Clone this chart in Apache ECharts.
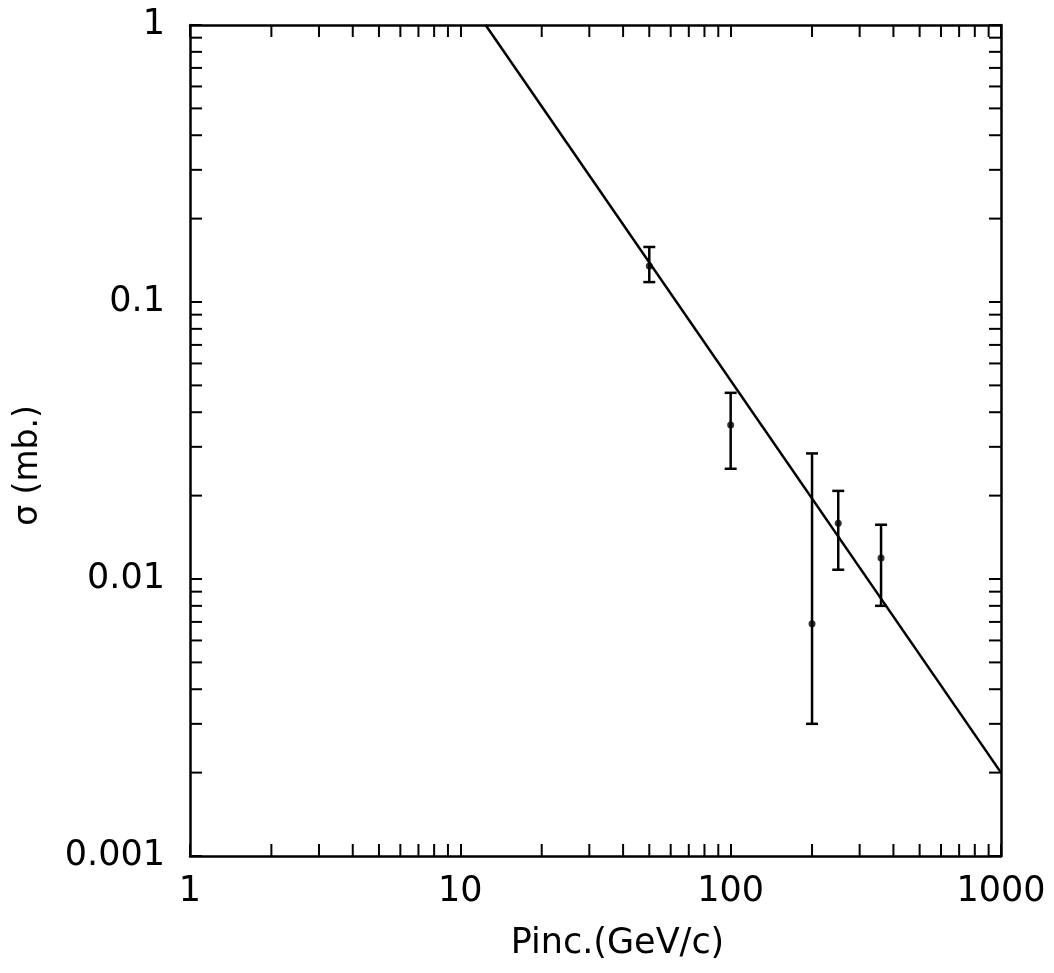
<!DOCTYPE html>
<html>
<head>
<meta charset="utf-8">
<script src="https://cdn.jsdelivr.net/npm/echarts@6/dist/echarts.min.js"></script>
<style>
html, body { margin: 0; background: #fff; }
#chart { width: 1054px; height: 973px; }
</style>
</head>
<body>
<div id="chart"></div>
<script>
// fitted power law, drawn as a straight line on log-log axes
var fitX = [12.4, 1000];
var fitY = [1, 0.002];

// measured cross sections with error bars
var momentum = [50, 100, 200, 250, 360];
var sigma = [0.135, 0.036, 0.0069, 0.0159, 0.0119];
var sigmaLow = [0.118, 0.025, 0.0030, 0.0108, 0.0080];
var sigmaHigh = [0.158, 0.047, 0.0284, 0.0208, 0.0157];

// minor tick positions (2..9 in each decade)
var minorX = [2, 3, 4, 5, 6, 7, 8, 9, 20, 30, 40, 50, 60, 70, 80, 90, 200, 300, 400, 500, 600, 700, 800, 900];
var minorY = [0.002, 0.003, 0.004, 0.005, 0.006, 0.007, 0.008, 0.009,
              0.02, 0.03, 0.04, 0.05, 0.06, 0.07, 0.08, 0.09,
              0.2, 0.3, 0.4, 0.5, 0.6, 0.7, 0.8, 0.9];

var chart = echarts.init(document.getElementById('chart'));

var FONT = 'DejaVu Sans';
var black = '#000';
var tickLen = 12;

function tickLine(x1, y1, x2, y2) {
    return { type: 'line', shape: { x1: x1, y1: y1, x2: x2, y2: y2 }, style: { stroke: black, lineWidth: 2 } };
}

var axisLineStyle = { show: true, lineStyle: { color: black, width: 2.5 } };
var majorTick = { show: true, inside: true, length: tickLen, lineStyle: { color: black, width: 2 } };

var option = {
    animation: false,
    backgroundColor: '#fff',
    grid: { left: 190, right: 53, top: 25, bottom: 117 },
    xAxis: [{
        type: 'log', logBase: 10, min: 1, max: 1000,
        name: 'Pinc.(GeV/c)', nameLocation: 'middle', nameGap: 70,
        nameTextStyle: { fontFamily: FONT, fontSize: 35, color: black, padding: [0, 0, 0, 44] },
        axisLine: axisLineStyle,
        axisTick: majorTick,
        axisLabel: { fontFamily: FONT, fontSize: 35, color: black, margin: 18,
            formatter: function (v) { return String(v); } },
        splitLine: { show: false }
    }, {
        type: 'log', logBase: 10, min: 1, max: 1000, position: 'top',
        axisLine: axisLineStyle,
        axisTick: majorTick,
        axisLabel: { show: false },
        splitLine: { show: false }
    }],
    yAxis: [{
        type: 'log', logBase: 10, min: 0.001, max: 1,
        name: 'σ (mb.)', nameLocation: 'middle', nameGap: 145, nameRotate: 90,
        nameTextStyle: { fontFamily: FONT, fontSize: 33, color: black, padding: [0, 50, 0, 0] },
        axisLine: axisLineStyle,
        axisTick: majorTick,
        axisLabel: { fontFamily: FONT, fontSize: 35, color: black, margin: 25,
            formatter: function (v) { return String(v); } },
        splitLine: { show: false }
    }, {
        type: 'log', logBase: 10, min: 0.001, max: 1, position: 'right',
        axisLine: axisLineStyle,
        axisTick: majorTick,
        axisLabel: { show: false },
        splitLine: { show: false }
    }],
    series: [
        {
            // minor ticks on bottom and top
            type: 'custom',
            silent: true,
            data: minorX.map(function (v) { return [v, 0.001]; }),
            encode: { x: 0, y: 1 },
            renderItem: function (params, api) {
                var b = api.coord([api.value(0), 0.001]);
                var t = api.coord([api.value(0), 1]);
                return { type: 'group', children: [
                    tickLine(b[0], b[1], b[0], b[1] - tickLen),
                    tickLine(t[0], t[1], t[0], t[1] + tickLen)
                ] };
            }
        },
        {
            // minor ticks on left and right
            type: 'custom',
            silent: true,
            data: minorY.map(function (v) { return [1, v]; }),
            encode: { x: 0, y: 1 },
            renderItem: function (params, api) {
                var l = api.coord([1, api.value(1)]);
                var r = api.coord([1000, api.value(1)]);
                return { type: 'group', children: [
                    tickLine(l[0], l[1], l[0] + tickLen, l[1]),
                    tickLine(r[0], r[1], r[0] - tickLen, r[1])
                ] };
            }
        },
        {
            type: 'line',
            data: fitX.map(function (x, i) { return [x, fitY[i]]; }),
            showSymbol: false,
            lineStyle: { color: black, width: 2.5 },
            silent: true
        },
        {
            // error bars
            type: 'custom',
            data: momentum.map(function (x, i) { return [x, sigmaLow[i], sigmaHigh[i]]; }),
            encode: { x: 0, y: [1, 2] },
            renderItem: function (params, api) {
                var lo = api.coord([api.value(0), api.value(1)]);
                var hi = api.coord([api.value(0), api.value(2)]);
                var w = 6;
                return { type: 'group', children: [
                    { type: 'line', shape: { x1: lo[0], y1: lo[1], x2: hi[0], y2: hi[1] }, style: { stroke: black, lineWidth: 2.5 } },
                    { type: 'line', shape: { x1: lo[0] - w, y1: lo[1], x2: lo[0] + w, y2: lo[1] }, style: { stroke: black, lineWidth: 2.5 } },
                    { type: 'line', shape: { x1: hi[0] - w, y1: hi[1], x2: hi[0] + w, y2: hi[1] }, style: { stroke: black, lineWidth: 2.5 } }
                ] };
            }
        },
        {
            type: 'scatter',
            data: momentum.map(function (x, i) { return [x, sigma[i]]; }),
            symbolSize: 7,
            itemStyle: { color: black }
        }
    ]
};

chart.setOption(option);
</script>
</body>
</html>
